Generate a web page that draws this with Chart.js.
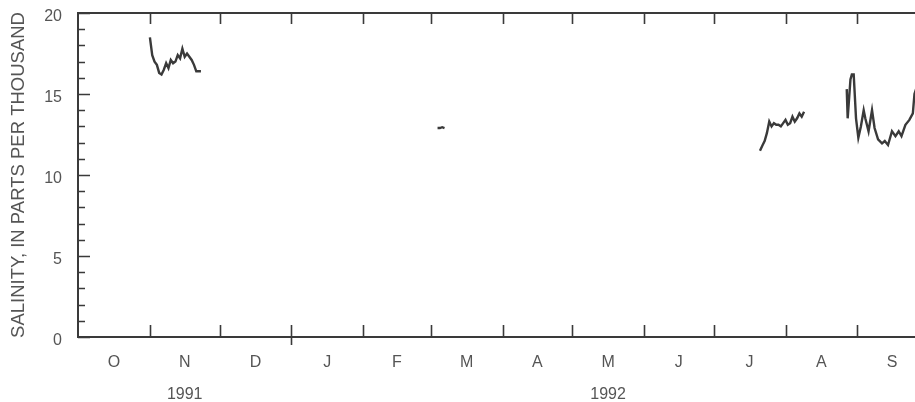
<!DOCTYPE html>
<html>
<head>
<meta charset="utf-8">
<script src="https://cdn.jsdelivr.net/npm/chart.js@4"></script>
<style>
  html, body { margin: 0; padding: 0; background: #fff; overflow: hidden; }
  canvas { display: block; }
</style>
</head>
<body>
<canvas id="salinityChart" width="935" height="402"></canvas>
<script>
// water year Oct 1991 - Sep 1992, x = days since Oct 1, 1991
const monthStarts = [0, 31, 61, 92, 123, 152, 183, 213, 244, 274, 305, 336, 366];
const monthMids = [15.5, 46, 76.5, 107.5, 137.5, 167.5, 198, 228.5, 259, 289.5, 320.5, 351];
const monthLabels = ['O', 'N', 'D', 'J', 'F', 'M', 'A', 'M', 'J', 'J', 'A', 'S'];
const yearPositions = [46, 228.5];
const yearLabels = ['1991', '1992'];
const yTicks = [0, 5, 10, 15, 20];

// salinity, parts per thousand
const novDays = [31, 32, 33, 34, 35, 36, 37, 38, 39, 40, 41, 42, 43, 44, 45, 46, 47, 48, 49, 50, 51, 52, 53];
const novSalinity = [18.5, 17.4, 17.0, 16.8, 16.3, 16.2, 16.5, 16.9, 16.6, 17.1, 16.9, 17.0, 17.4, 17.2, 17.8, 17.3, 17.5, 17.3, 17.1, 16.8, 16.4, 16.4, 16.4];

const marDays = [155, 156, 157, 158];
const marSalinity = [12.9, 12.9, 12.95, 12.9];

const julDays = [294, 295, 296, 297, 298, 299, 300, 301, 302, 303, 304, 305, 306, 307, 308, 309, 310, 311, 312, 313];
const julSalinity = [11.5, 11.8, 12.1, 12.6, 13.3, 13.0, 13.2, 13.1, 13.1, 13.0, 13.2, 13.4, 13.1, 13.2, 13.6, 13.3, 13.5, 13.8, 13.6, 13.9];

const sepDays = [331.4, 331.8, 333.0, 333.6, 334.4, 335.4, 336.4, 337.5, 338.7, 339.4, 340.8, 342.3, 343.4, 344.9, 346.6, 347.8, 349.2, 350.9, 352.4, 353.8, 355.0, 356.7, 358.4, 359.9, 360.6, 361.5];
const sepSalinity = [15.3, 13.5, 15.9, 16.2, 16.2, 13.5, 12.3, 13.0, 14.0, 13.5, 12.7, 14.0, 12.9, 12.2, 11.95, 12.1, 11.85, 12.7, 12.4, 12.7, 12.4, 13.1, 13.4, 13.8, 15.0, 15.4];

const FONT = '"Liberation Sans", Arial, Helvetica, sans-serif';
const TEXT = '#555';
const INK = '#3a3a3a';

function segment(days, vals) {
    return {
        data: days.map((d, i) => ({ x: d, y: vals[i] })),
        borderColor: INK,
        borderWidth: 2.4,
        pointRadius: 0,
        fill: false,
        tension: 0
    };
}

// frame with inward ticks, like the printed figure
const framePlugin = {
    id: 'frame',
    afterDatasetsDraw(chart) {
        const { ctx, chartArea: a, scales } = chart;
        const x = scales.x, y = scales.y;
        ctx.save();
        ctx.strokeStyle = INK;
        ctx.lineWidth = 2;
        ctx.strokeRect(a.left, a.top, a.right - a.left, a.bottom - a.top);
        ctx.lineWidth = 1.6;
        ctx.beginPath();
        for (let v = 0; v <= 20; v++) {
            const py = Math.round(y.getPixelForValue(v)) + 0.5;
            const len = v % 5 === 0 ? 12 : 7;
            ctx.moveTo(a.left, py); ctx.lineTo(a.left + len, py);
            ctx.moveTo(a.right, py); ctx.lineTo(a.right - len, py);
        }
        monthStarts.forEach((d, i) => {
            if (i === 0 || i === monthStarts.length - 1) return;
            const px = Math.round(x.getPixelForValue(d)) + 0.5;
            ctx.moveTo(px, a.top); ctx.lineTo(px, a.top + 11);
            ctx.moveTo(px, a.bottom + (d === 92 ? 8 : 0)); ctx.lineTo(px, a.bottom - 12);
        });
        ctx.stroke();
        ctx.restore();
    }
};

new Chart(document.getElementById('salinityChart'), {
    type: 'line',
    data: {
        datasets: [
            segment(novDays, novSalinity),
            segment(marDays, marSalinity),
            segment(julDays, julSalinity),
            segment(sepDays, sepSalinity)
        ]
    },
    options: {
        responsive: false,
        animation: false,
        devicePixelRatio: 1,
        layout: { padding: { top: 13, right: 8, left: 0, bottom: 0 } },
        plugins: {
            legend: { display: false },
            tooltip: { enabled: false }
        },
        scales: {
            x: {
                type: 'linear',
                position: 'bottom',
                min: 0,
                max: 366,
                grid: { display: false, drawTicks: false },
                border: { display: false },
                afterBuildTicks: axis => { axis.ticks = monthMids.map(v => ({ value: v })); },
                afterFit: axis => { axis.height = 32; },
                ticks: {
                    padding: 16,
                    maxRotation: 0,
                    autoSkip: false,
                    color: TEXT,
                    font: { family: FONT, size: 16 },
                    callback: (v, i) => monthLabels[i]
                }
            },
            xYear: {
                type: 'linear',
                position: 'bottom',
                weight: 1,
                min: 0,
                max: 366,
                grid: { display: false, drawTicks: false },
                border: { display: false },
                afterBuildTicks: axis => { axis.ticks = yearPositions.map(v => ({ value: v })); },
                afterFit: axis => { axis.height = 33; },
                ticks: {
                    padding: 16,
                    maxRotation: 0,
                    autoSkip: false,
                    color: TEXT,
                    font: { family: FONT, size: 16 },
                    callback: (v, i) => yearLabels[i]
                }
            },
            y: {
                min: 0,
                max: 20,
                grid: { display: false, drawTicks: false },
                border: { display: false },
                afterBuildTicks: axis => { axis.ticks = yTicks.map(v => ({ value: v })); },
                afterFit: axis => {
                    axis.width = 78;
                    axis.paddingTop = 0;
                    axis.paddingBottom = 0;
                },
                ticks: {
                    padding: 16,
                    labelOffset: 4,
                    color: TEXT,
                    font: { family: FONT, size: 16 }
                },
                title: {
                    display: true,
                    text: 'SALINITY, IN PARTS PER THOUSAND',
                    color: TEXT,
                    font: { family: FONT, size: 18.5 },
                    padding: { top: 8, bottom: 0 }
                }
            }
        }
    },
    plugins: [framePlugin]
});
</script>
</body>
</html>
